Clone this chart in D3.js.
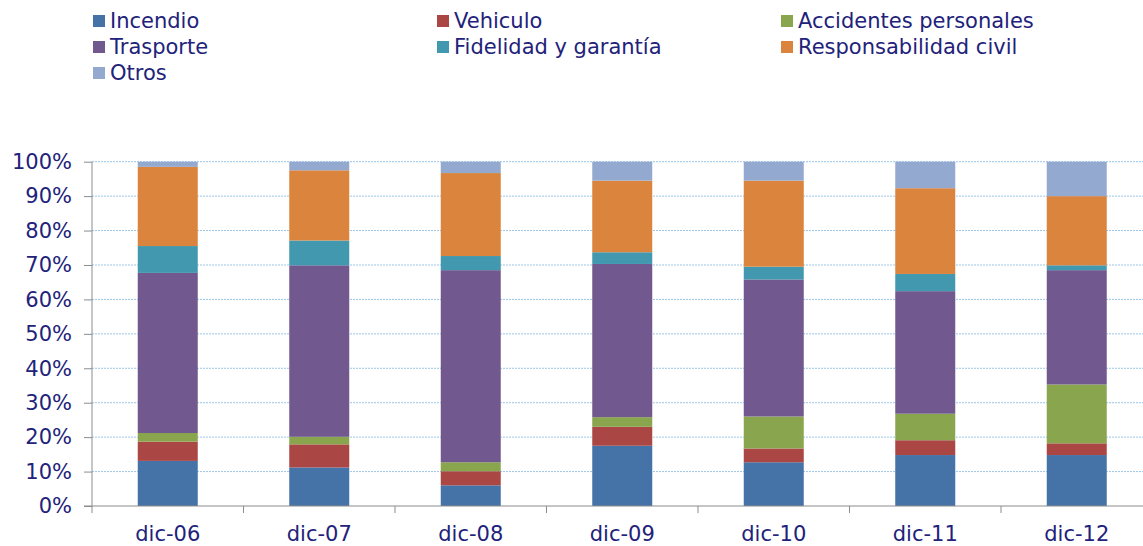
<!DOCTYPE html>
<html><head><meta charset="utf-8">
<script src="https://cdn.jsdelivr.net/npm/d3@7"></script>
<style>body{margin:0;background:#fff}svg{display:block}</style>
</head><body>
<svg id="c" width="1143" height="546"></svg>
<script>
const categories = ["dic-06","dic-07","dic-08","dic-09","dic-10","dic-11","dic-12"];
const seriesNames = ["Incendio","Vehiculo","Accidentes personales","Trasporte","Fidelidad y garantía","Responsabilidad civil","Otros"];
const incendio    = [13.1, 11.2,  6.0, 17.5, 12.7, 14.8, 14.8];
const vehiculo    = [ 5.6,  6.7,  4.1,  5.5,  4.0,  4.3,  3.4];
const accidentes  = [ 2.5,  2.2,  2.6,  2.8,  9.3,  7.7, 17.1];
const trasporte   = [46.5, 49.8, 55.8, 44.5, 39.8, 35.6, 33.2];
const fidelidad   = [ 7.8,  7.2,  4.1,  3.4,  3.7,  5.0,  1.4];
const responsab   = [23.0, 20.4, 24.1, 20.8, 25.0, 24.9, 20.1];
const otros       = [ 1.5,  2.5,  3.3,  5.5,  5.5,  7.7, 10.0];
const yTicks = [0,10,20,30,40,50,60,70,80,90,100];
const colors = ["#4572A7","#AA4643","#89A54E","#71588F","#4198AF","#DB843D","#93A9CF"];

(function(){
const seriesVals = [incendio, vehiculo, accidentes, trasporte, fidelidad, responsab, otros];
const rows = categories.map((c,i)=>{const r={cat:c}; seriesNames.forEach((s,j)=>r[s]=seriesVals[j][i]); return r;});
const stack = d3.stack().keys(seriesNames).offset(d3.stackOffsetExpand)(rows);

const svg = d3.select("#c");
const font = "'DejaVu Sans', Verdana, sans-serif";
const fs = "21px";
const textColor = "#22227a";
const pL=92, pR=1152.5, pT=161.7, pB=506;
const x = d3.scaleBand().domain(categories).range([pL,pR]).paddingInner(0.604).paddingOuter(0.302);
const y = d3.scaleLinear().domain([0,1]).range([pB,pT]);

// gridlines
svg.append("g").selectAll("line").data(yTicks.filter(t=>t>0)).join("line")
  .attr("x1",pL).attr("x2",1143).attr("y1",d=>y(d/100)).attr("y2",d=>y(d/100))
  .attr("stroke","#9cc6e6").attr("stroke-width",1).attr("stroke-dasharray","2,1");

// bars
svg.append("g").selectAll("g").data(stack).join("g").attr("fill",(d,i)=>colors[i])
  .selectAll("rect").data(d=>d).join("rect")
  .attr("x",d=>x(d.data.cat)).attr("width",x.bandwidth())
  .attr("y",d=>y(d[1])).attr("height",d=>y(d[0])-y(d[1]));

// y axis
const ya = svg.append("g").attr("transform",`translate(${pL},0)`)
  .call(d3.axisLeft(y).tickValues(yTicks.map(t=>t/100)).tickFormat(d=>Math.round(d*100)+"%").tickSize(8).tickPadding(12));
ya.select(".domain").attr("stroke","#8c8c8c").attr("d",`M0,${pB}V${pT}`);
ya.selectAll(".tick line").attr("stroke","#8c8c8c");
ya.selectAll("text").attr("fill",textColor).style("font-family",font).style("font-size",fs);

// x axis
const xa = svg.append("g").attr("transform",`translate(0,${pB})`);
xa.append("line").attr("x1",pL-8).attr("x2",1143).attr("y1",0).attr("y2",0).attr("stroke","#8c8c8c");
const step = x.step();
xa.selectAll("line.t").data(d3.range(categories.length+1)).join("line").attr("class","t")
  .attr("x1",i=>pL+i*step).attr("x2",i=>pL+i*step).attr("y1",0).attr("y2",7).attr("stroke","#8c8c8c");
xa.selectAll("text").data(categories).join("text")
  .attr("x",d=>x(d)+x.bandwidth()/2).attr("y",35).attr("text-anchor","middle")
  .attr("fill",textColor).style("font-family",font).style("font-size",fs).text(d=>d);

// legend
const legendPos = [[93,21],[437,21],[781,21],[93,47],[437,47],[781,47],[93,73]];
const lg = svg.append("g").selectAll("g").data(seriesNames).join("g")
  .attr("transform",(d,i)=>`translate(${legendPos[i][0]},${legendPos[i][1]})`);
lg.append("rect").attr("x",0).attr("y",-6).attr("width",12).attr("height",12).attr("fill",(d,i)=>colors[i]);
lg.append("text").attr("x",17).attr("y",7).attr("fill",textColor).style("font-family",font).style("font-size",fs).text(d=>d);
})();
</script>
</body></html>
